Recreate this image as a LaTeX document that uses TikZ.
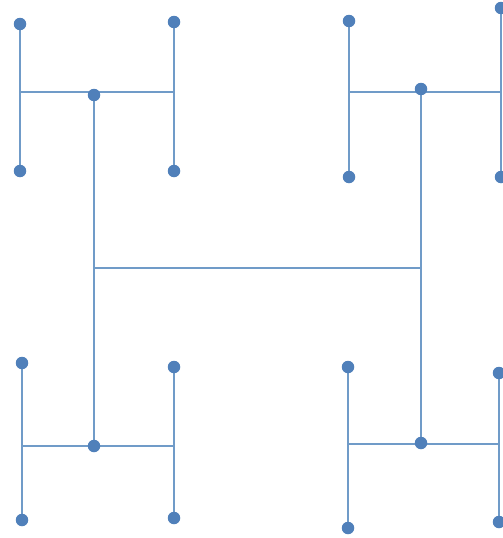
\documentclass[tikz,border=0pt]{standalone}
\begin{document}
\begin{tikzpicture}[x=1pt,y=-1pt,
  edge/.style={draw=lineblue,line width=1.9pt},
  dot/.style={circle,fill=dotblue,inner sep=0pt,minimum size=12.5pt}]
\definecolor{lineblue}{RGB}{112,155,200}
\definecolor{dotblue}{RGB}{80,128,186}
\useasboundingbox (0,0) rectangle (503,538);
\clip (0,0) rectangle (503,538);
% central H
\coordinate (m1) at (94,268);
\coordinate (m2) at (421,268);
% centres
\coordinate (c1) at (94,95);
\coordinate (c2) at (421,89);
\coordinate (c3) at (94,446);
\coordinate (c4) at (421,443);
% top-left H
\coordinate (h1l) at (20,92);
\coordinate (h1r) at (174,92);
\coordinate (a1) at (20,24);
\coordinate (a2) at (20,171);
\coordinate (a3) at (174,22);
\coordinate (a4) at (174,171);
% top-right H
\coordinate (h2l) at (349,92);
\coordinate (h2r) at (501,92);
\coordinate (b1) at (349,21);
\coordinate (b2) at (349,177);
\coordinate (b3) at (501,8);
\coordinate (b4) at (501,177);
% bottom-left H
\coordinate (h3l) at (22,446);
\coordinate (h3r) at (174,446);
\coordinate (d1) at (22,363);
\coordinate (d2) at (22,520);
\coordinate (d3) at (174,367);
\coordinate (d4) at (174,518);
% bottom-right H
\coordinate (h4l) at (348,444);
\coordinate (h4r) at (499,444);
\coordinate (e1) at (348,367);
\coordinate (e2) at (348,528);
\coordinate (e3) at (499,373);
\coordinate (e4) at (499,522);
% connectors
\draw[edge] (a1) -- (a2);
\draw[edge] (a3) -- (a4);
\draw[edge] (h1l) -- (h1r);
\draw[edge] (b1) -- (b2);
\draw[edge] (b3) -- (b4);
\draw[edge] (h2l) -- (h2r);
\draw[edge] (d1) -- (d2);
\draw[edge] (d3) -- (d4);
\draw[edge] (h3l) -- (h3r);
\draw[edge] (e1) -- (e2);
\draw[edge] (e3) -- (e4);
\draw[edge] (h4l) -- (h4r);
\draw[edge] (c1) -- (c3);
\draw[edge] (c2) -- (c4);
\draw[edge] (m1) -- (m2);
% dots
\foreach \n in {c1,c2,c3,c4,a1,a2,a3,a4,b1,b2,b3,b4,d1,d2,d3,d4,e1,e2,e3,e4}
  \node[dot] (dot-\n) at (\n) {};
\end{tikzpicture}
\end{document}
